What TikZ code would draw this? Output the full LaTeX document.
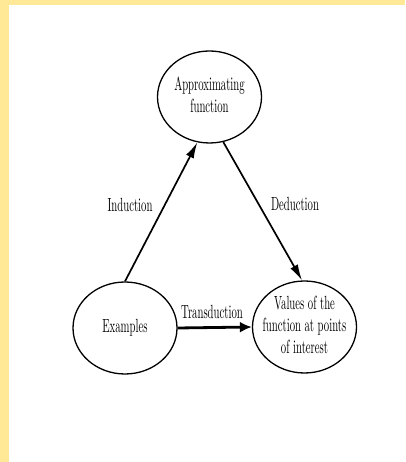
\documentclass[tikz,border=0pt]{standalone}
\usepackage{graphicx}
\usepackage{tikz}
\usetikzlibrary{shapes.geometric}
\usetikzlibrary{arrows.meta}
\usepackage{xcolor}
\definecolor{paper}{RGB}{255,233,150}

% text of the scan is tall and narrow
\newcommand{\tall}[1]{\scalebox{1}[1.78]{\fontsize{10.7}{12.4}\selectfont\begin{tabular}{@{}c@{}}#1\end{tabular}}}

\begin{document}
\begin{tikzpicture}[x=1pt,y=1pt,
  blob/.style={ellipse,draw,line width=1.3pt,minimum width=104pt,minimum height=92pt,inner xsep=-10pt,inner ysep=-1pt},
  arr/.style={line width=1.7pt,-{Latex[length=16pt,width=8.5pt]}}]
 \useasboundingbox (0,0) rectangle (405,462);
 \fill[paper] (0,0) rectangle (405,462);
 \fill[white] (8.5,0) rectangle (405,456.5);

 \node[blob] (approx) at (209.5,365) {\tall{Approximating\\function}};
 \node[blob] (exmp) at (125,134) {\tall{Examples}};
 \node[blob] (vals) at (304.5,135) {\tall{Values of the\\function at points\\of interest}};

 \draw[arr] (exmp.north) -- (approx.255);
 \draw[arr] (approx.287) -- (vals.93);
 \draw[line width=2.8pt,-{Latex[length=12pt,width=11pt]}] (exmp.east) -- (vals.west);

 \node (ind) at (130,255) {\tall{Induction}};
 \node (ded) at (295,256) {\tall{Deduction}};
 \node (trans) at (212,148) {\tall{Transduction}};
\end{tikzpicture}
\end{document}
